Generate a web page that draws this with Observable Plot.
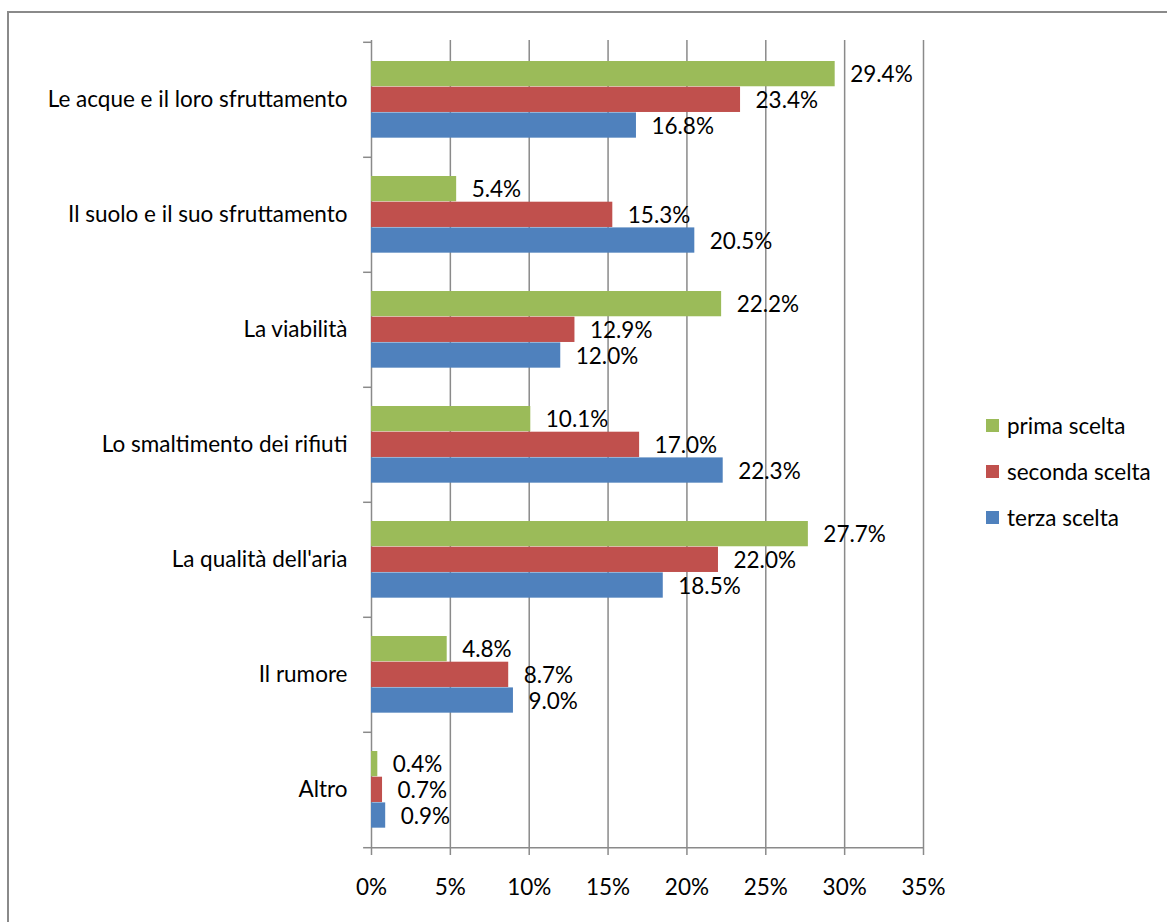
<!DOCTYPE html>
<html>
<head>
<meta charset="utf-8">
<script src="https://cdn.jsdelivr.net/npm/d3@7"></script>
<script src="https://cdn.jsdelivr.net/npm/@observablehq/plot@0.6"></script>
<style>
  html, body { margin: 0; padding: 0; background: #fff; overflow: hidden; }
  #wrap { position: relative; width: 1167px; height: 922px; font-family: Lato, "Open Sans", sans-serif; }
  #border { position: absolute; left: 7px; top: 11px; width: 1200px; height: 1000px; border-top: 2px solid #8a8a8a; border-left: 2px solid #8a8a8a; }
  #chart { position: absolute; left: 0; top: 0; }
  #legend { position: absolute; left: 986px; top: 402px; font-size: 22.5px; color: #000; }
  .item { display: flex; align-items: center; height: 46px; }
  .sw { width: 13px; height: 13px; margin-right: 8px; }
</style>
</head>
<body>
<div id="wrap">
  <div id="border"></div>
  <div id="chart"></div>
  <div id="legend"></div>
</div>
<script>
const categories = [
  "Le acque e il loro sfruttamento",
  "Il suolo e il suo sfruttamento",
  "La viabilità",
  "Lo smaltimento dei rifiuti",
  "La qualità dell'aria",
  "Il rumore",
  "Altro"
];
const series = ["prima scelta", "seconda scelta", "terza scelta"];
const prima   = [29.4, 5.4, 22.2, 10.1, 27.7, 4.8, 0.4];
const seconda = [23.4, 15.3, 12.9, 17.0, 22.0, 8.7, 0.7];
const terza   = [16.8, 20.5, 12.0, 22.3, 18.5, 9.0, 0.9];
const xTicks = [0, 5, 10, 15, 20, 25, 30, 35];
const colors = ["#9BBB59", "#C0504D", "#4F81BD"];

const values = [prima, seconda, terza];
const data = [];
series.forEach((s, si) => categories.forEach((c, ci) => data.push({category: c, series: s, value: values[si][ci]})));

const W = 1167, H = 922, mT = 40, mB = 74, mL = 371, mR = 244;
const bw = (H - mT - mB) / categories.length;
const barH = 25.7, topPad = 19;
const grid = "#8a8a8a";
const FS = 22.5;

const marks = [
  Plot.ruleX(xTicks, {stroke: grid, strokeWidth: 1.5}),
  Plot.ruleY([categories[categories.length - 1]], {stroke: grid, strokeWidth: 1.5, dy: bw / 2}),
  Plot.ruleY(categories, {x1: -0.5, x2: 0, stroke: grid, strokeWidth: 1.5, dy: -bw / 2}),
  Plot.ruleY([categories[categories.length - 1]], {x1: -0.5, x2: 0, stroke: grid, strokeWidth: 1.5, dy: bw / 2})
];
series.forEach((s, i) => {
  const d = data.filter(r => r.series === s);
  const insetTop = topPad + i * barH;
  const insetBottom = bw - insetTop - barH;
  marks.push(Plot.barX(d, {x: "value", y: "category", fill: colors[i], insetTop, insetBottom}));
  marks.push(Plot.text(d, {
    x: "value", y: "category", text: r => r.value.toFixed(1) + "%",
    textAnchor: "start", dx: 15, dy: insetTop + barH / 2 - bw / 2 + 1,
    fontSize: FS, fill: "#000"
  }));
});

const chart = Plot.plot({
  width: W, height: H,
  marginTop: mT, marginBottom: mB, marginLeft: mL, marginRight: mR,
  style: {fontFamily: "Lato, 'Open Sans', sans-serif", fontSize: FS + "px", background: "transparent", color: "#000"},
  x: {domain: [0, 35], ticks: xTicks, tickFormat: d => d + "%", tickSize: 7, tickPadding: 24, label: null},
  y: {domain: categories, padding: 0, tickSize: 0, tickPadding: 24, label: null},
  marks
});
chart.querySelectorAll("[aria-label='x-axis tick'] path, [aria-label='x-axis'] .tick line").forEach(p => { p.setAttribute("stroke", grid); p.setAttribute("stroke-width", 1.5); });
document.getElementById("chart").appendChild(chart);

const legend = document.getElementById("legend");
series.forEach((s, i) => {
  const it = document.createElement("div");
  it.className = "item";
  it.innerHTML = `<div class="sw" style="background:${colors[i]}"></div><span>${s}</span>`;
  legend.appendChild(it);
});
</script>
</body>
</html>
